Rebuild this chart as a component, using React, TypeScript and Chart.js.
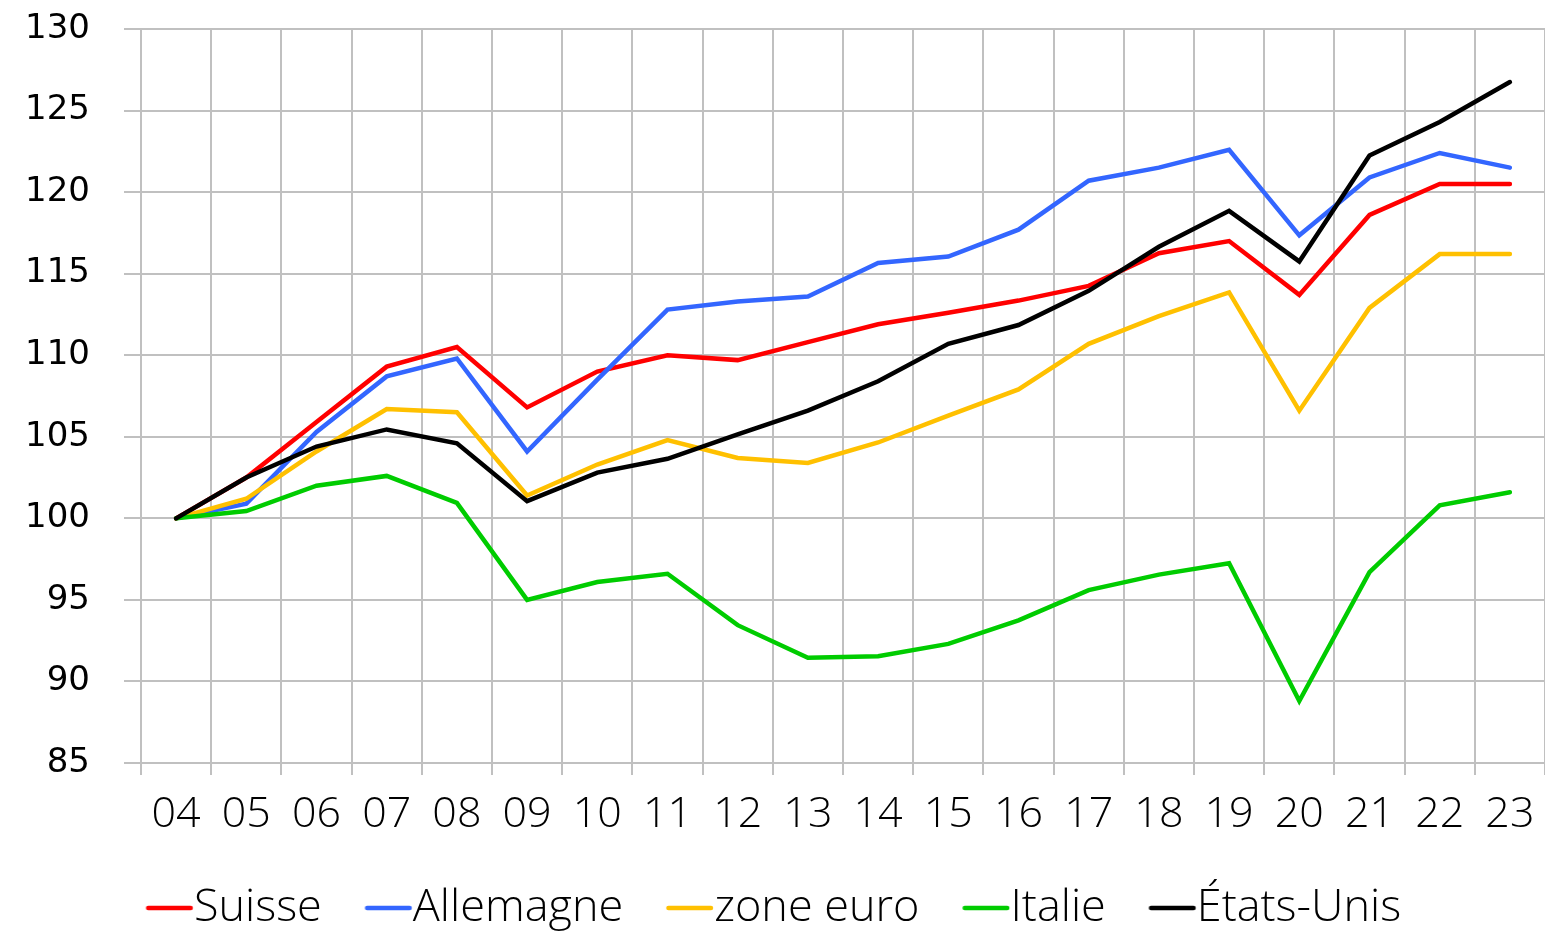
import { useEffect, useRef } from 'react';
import { Chart, registerables } from 'chart.js';

Chart.register(...registerables);

const years = ['04', '05', '06', '07', '08', '09', '10', '11', '12', '13', '14', '15', '16', '17', '18', '19', '20', '21', '22', '23'];

const suisse = [100, 102.5, 105.9, 109.3, 110.5, 106.8, 109.0, 110.0, 109.7, 110.8, 111.9, 112.6, 113.35, 114.25, 116.25, 117.0, 113.7, 118.6, 120.5, 120.5];
const allemagne = [100, 100.9, 105.3, 108.7, 109.8, 104.1, 108.5, 112.8, 113.3, 113.6, 115.65, 116.05, 117.7, 120.7, 121.5, 122.6, 117.35, 120.9, 122.4, 121.5];
const zoneEuro = [100, 101.2, 104.1, 106.7, 106.5, 101.4, 103.3, 104.8, 103.7, 103.4, 104.65, 106.3, 107.9, 110.7, 112.4, 113.85, 106.6, 112.9, 116.2, 116.2];
const italie = [100, 100.45, 102.0, 102.6, 100.95, 95.0, 96.1, 96.6, 93.45, 91.45, 91.55, 92.3, 93.75, 95.6, 96.55, 97.25, 88.8, 96.7, 100.8, 101.6];
const etatsUnis = [100, 102.5, 104.4, 105.45, 104.6, 101.05, 102.8, 103.65, 105.15, 106.6, 108.4, 110.7, 111.85, 113.95, 116.65, 118.85, 115.75, 122.25, 124.3, 126.75];

const seriesNames = ['Suisse', 'Allemagne', 'zone euro', 'Italie', 'États-Unis'];
const seriesColors = ['#FF0000', '#3366FF', '#FFC000', '#00CC00', '#000000'];
const seriesValues = [suisse, allemagne, zoneEuro, italie, etatsUnis];

const yMin = 85;
const yMax = 130;
const yStep = 5;

// legend marker: a short line that sits right against the label text
function makeLegendLine(color: string) {
  const c = document.createElement('canvas');
  c.width = 72;
  c.height = 8;
  const ctx = c.getContext('2d')!;
  ctx.strokeStyle = color;
  ctx.lineWidth = 4.5;
  ctx.lineCap = 'round';
  ctx.beginPath();
  ctx.moveTo(25.5, 4);
  ctx.lineTo(68, 4);
  ctx.stroke();
  return c;
}

export default function App() {
  const ref = useRef<HTMLCanvasElement>(null);

  useEffect(() => {
    document.body.style.margin = '0';
    document.body.style.overflow = 'hidden';
    const canvas = ref.current;
    if (!canvas) return;
    const gridColor = '#C0C0C0';
    const chart = new Chart(canvas, {
      type: 'line',
      data: {
        labels: years,
        datasets: seriesValues.map((vals, i) => ({
          label: seriesNames[i],
          data: vals,
          borderColor: seriesColors[i],
          backgroundColor: seriesColors[i],
          borderWidth: 4.5,
          pointRadius: 0,
          pointHoverRadius: 0,
          pointHitRadius: 0,
          pointStyle: makeLegendLine(seriesColors[i]) as any,
          tension: 0,
          fill: false,
          borderCapStyle: 'round' as const,
          order: seriesValues.length - 1 - i,
        })),
      },
      options: {
        responsive: false,
        animation: false,
        devicePixelRatio: 1,
        events: [],
        layout: { padding: { top: 29, right: -2, bottom: -9.5, left: 0 } },
        plugins: {
          tooltip: { enabled: false },
          legend: {
            position: 'bottom',
            labels: {
              usePointStyle: true,
              pointStyleWidth: 25.5,
              padding: 43,
              color: '#000',
              font: { family: '"Open Sans", sans-serif', size: 45, weight: 300 as any },
              sort: (a: any, b: any) => a.datasetIndex - b.datasetIndex,
            },
          },
        },
        scales: {
          x: {
            offset: true,
            grid: { offset: true, color: gridColor, lineWidth: 2, tickLength: 12, drawTicks: true },
            border: { color: gridColor, width: 2 },
            ticks: {
              color: '#000',
              padding: 14,
              maxRotation: 0,
              autoSkip: false,
              font: { family: '"Open Sans", sans-serif', size: 43, weight: 300 as any },
            },
            afterFit: (scale: any) => {
              scale.height = 79.5;
              scale.paddingLeft = 0;
              scale.paddingRight = 0;
            },
          },
          y: {
            min: yMin,
            max: yMax,
            grid: { color: gridColor, lineWidth: 2, tickLength: 17 },
            border: { color: gridColor, width: 2 },
            ticks: {
              stepSize: yStep,
              color: '#000',
              padding: 34,
              font: { family: '"DejaVu Sans", sans-serif', size: 34 },
            },
            afterFit: (scale: any) => {
              scale.width = 141;
              scale.paddingTop = 0;
              scale.paddingBottom = 0;
            },
          },
        },
      },
    });
    return () => chart.destroy();
  }, []);

  return (
    <div style={{ width: 1545, height: 931 }}>
      <canvas ref={ref} width={1545} height={931} style={{ display: 'block' }} />
    </div>
  );
}
